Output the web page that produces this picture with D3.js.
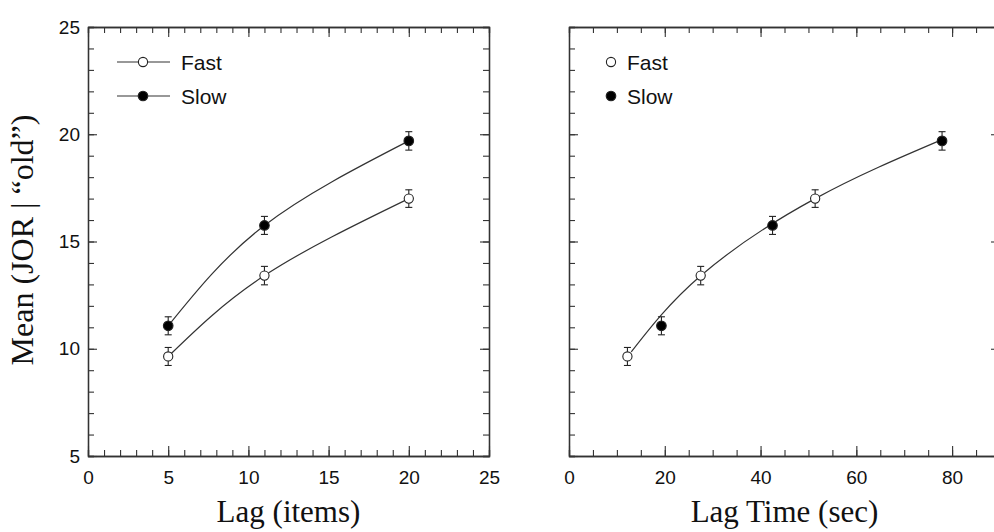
<!DOCTYPE html>
<html>
<head>
<meta charset="utf-8">
<script src="https://cdn.jsdelivr.net/npm/d3@7"></script>
<style>
  body { margin: 0; background: #fff; }
  .domain { stroke: #333; stroke-width: 1.3; }
  .tick line { stroke: #333; stroke-width: 1.1; }
</style>
</head>
<body>
<script>
// lag in items (left panel)
var lagItems = [5, 11, 20];
var fastMean = [9.64, 13.41, 17.0];
var slowMean = [11.07, 15.75, 19.69];
var fastErr = [0.42, 0.43, 0.41];
var slowErr = [0.42, 0.42, 0.43];

// lag time in seconds (right panel)
var fastTime = [12.2, 27.5, 51.4];
var slowTime = [19.3, 42.5, 77.9];
// fitted curve
var fitTime = [13.0, 27.5, 51.4, 77.9];
var fitMean = [9.85, 13.4, 17.0, 19.75];

var yTicks = [5, 10, 15, 20, 25];
var leftXTicks = [0, 5, 10, 15, 20, 25];
var rightXTicks = [0, 20, 40, 60, 80];

var width = 994, height = 532;
var plotTop = 27, plotBottom = 456;
var sans = "Liberation Sans, Arial, sans-serif";
var serif = "Liberation Serif, Times New Roman, serif";

var svg = d3.select("body").append("svg")
  .attr("width", width)
  .attr("height", height);

var y = d3.scaleLinear().domain([5, 25]).range([plotBottom, plotTop]);
var yMinor = d3.range(5, 26, 1);

function frame(g, x, majors, minors, labelsX, labelsY) {
  var x0 = x.range()[0], x1 = x.range()[1];
  // bottom
  g.append("g").attr("transform", "translate(0," + plotBottom + ")")
    .call(d3.axisBottom(x).tickValues(minors).tickSize(-6).tickFormat(""));
  g.append("g").attr("transform", "translate(0," + plotBottom + ")")
    .call(d3.axisBottom(x).tickValues(majors).tickSizeInner(-10).tickSizeOuter(0).tickPadding(15)
      .tickFormat(labelsX ? d3.format("d") : ""));
  // top
  g.append("g").attr("transform", "translate(0," + plotTop + ")")
    .call(d3.axisTop(x).tickValues(minors).tickSize(-6).tickFormat(""));
  g.append("g").attr("transform", "translate(0," + plotTop + ")")
    .call(d3.axisTop(x).tickValues(majors).tickSizeInner(-10).tickSizeOuter(0).tickFormat(""));
  // left
  g.append("g").attr("transform", "translate(" + x0 + ",0)")
    .call(d3.axisLeft(y).tickValues(yMinor).tickSize(-6).tickFormat(""));
  g.append("g").attr("transform", "translate(" + x0 + ",0)")
    .call(d3.axisLeft(y).tickValues(yTicks).tickSizeInner(-9).tickSizeOuter(0).tickPadding(8)
      .tickFormat(labelsY ? d3.format("d") : ""));
  // right
  g.append("g").attr("transform", "translate(" + x1 + ",0)")
    .call(d3.axisRight(y).tickValues(yMinor).tickSize(-6).tickFormat(""));
  g.append("g").attr("transform", "translate(" + x1 + ",0)")
    .call(d3.axisRight(y).tickValues(yTicks).tickSizeInner(-9).tickSizeOuter(0).tickFormat(""));
  g.selectAll(".tick text")
    .attr("font-family", sans)
    .attr("font-size", 19)
    .attr("fill", "#111");
}

function errorBars(g, x, xs, ms, es) {
  var w = 3.5;
  xs.forEach(function (d, i) {
    var cx = x(d), yt = y(ms[i] + es[i]), yb = y(ms[i] - es[i]);
    g.append("line").attr("x1", cx).attr("x2", cx).attr("y1", yt).attr("y2", yb);
    g.append("line").attr("x1", cx - w).attr("x2", cx + w).attr("y1", yt).attr("y2", yt);
    g.append("line").attr("x1", cx - w).attr("x2", cx + w).attr("y1", yb).attr("y2", yb);
  });
  g.attr("stroke", "#222").attr("stroke-width", 1.1);
}

function markers(g, x, xs, ms, filled) {
  g.selectAll("circle").data(xs).enter().append("circle")
    .attr("cx", function (d) { return x(d); })
    .attr("cy", function (d, i) { return y(ms[i]); })
    .attr("r", filled ? 4.8 : 4.6)
    .attr("fill", filled ? "#000" : "#fff")
    .attr("stroke", "#222")
    .attr("stroke-width", 1.1);
}

var line = d3.line().curve(d3.curveNatural);

// ---------- left panel ----------
var xL = d3.scaleLinear().domain([0, 25]).range([88, 489]);
var left = svg.append("g");
frame(left, xL, leftXTicks, d3.range(0, 26, 1), true, true);

[fastMean, slowMean].forEach(function (m) {
  left.append("path")
    .attr("d", line(lagItems.map(function (d, i) { return [xL(d), y(m[i])]; })))
    .attr("fill", "none").attr("stroke", "#333").attr("stroke-width", 1.2);
});
errorBars(left.append("g"), xL, lagItems, fastMean, fastErr);
errorBars(left.append("g"), xL, lagItems, slowMean, slowErr);
markers(left.append("g"), xL, lagItems, fastMean, false);
markers(left.append("g"), xL, lagItems, slowMean, true);

// legend left
var legL = left.append("g");
[["Fast", false, 62], ["Slow", true, 96]].forEach(function (d) {
  legL.append("line").attr("x1", 117).attr("x2", 170).attr("y1", d[2]).attr("y2", d[2])
    .attr("stroke", "#333").attr("stroke-width", 1.2);
  legL.append("circle").attr("cx", 143).attr("cy", d[2]).attr("r", d[1] ? 4.8 : 4.6)
    .attr("fill", d[1] ? "#000" : "#fff").attr("stroke", "#222").attr("stroke-width", 1.1);
  legL.append("text").attr("x", 181).attr("y", d[2] + 7.5).text(d[0])
    .attr("font-family", sans).attr("font-size", 21).attr("fill", "#111");
});

left.append("text")
  .attr("transform", "translate(33,240) rotate(-90)")
  .attr("text-anchor", "middle")
  .attr("font-family", serif)
  .attr("font-size", 32)
  .attr("fill", "#111")
  .text("Mean (JOR | \u201Cold\u201D)");

left.append("text")
  .attr("x", 288.5).attr("y", 522)
  .attr("text-anchor", "middle")
  .attr("font-family", serif)
  .attr("font-size", 31)
  .attr("fill", "#111")
  .text("Lag (items)");

// ---------- right panel ----------
var xR = d3.scaleLinear().domain([0, 90]).range([569, 1000]);
var right = svg.append("g");
frame(right, xR, rightXTicks, d3.range(0, 91, 5), true, false);

right.append("path")
  .attr("d", line(fitTime.map(function (d, i) { return [xR(d), y(fitMean[i])]; })))
  .attr("fill", "none").attr("stroke", "#333").attr("stroke-width", 1.2);
errorBars(right.append("g"), xR, fastTime, fastMean, fastErr);
errorBars(right.append("g"), xR, slowTime, slowMean, slowErr);
markers(right.append("g"), xR, fastTime, fastMean, false);
markers(right.append("g"), xR, slowTime, slowMean, true);

var legR = right.append("g");
[["Fast", false, 62], ["Slow", true, 96]].forEach(function (d) {
  legR.append("circle").attr("cx", 611).attr("cy", d[2]).attr("r", d[1] ? 4.8 : 4.6)
    .attr("fill", d[1] ? "#000" : "#fff").attr("stroke", "#222").attr("stroke-width", 1.1);
  legR.append("text").attr("x", 627).attr("y", d[2] + 7.5).text(d[0])
    .attr("font-family", sans).attr("font-size", 21).attr("fill", "#111");
});

right.append("text")
  .attr("x", 784.5).attr("y", 522)
  .attr("text-anchor", "middle")
  .attr("font-family", serif)
  .attr("font-size", 31)
  .attr("fill", "#111")
  .text("Lag Time (sec)");
</script>
</body>
</html>
